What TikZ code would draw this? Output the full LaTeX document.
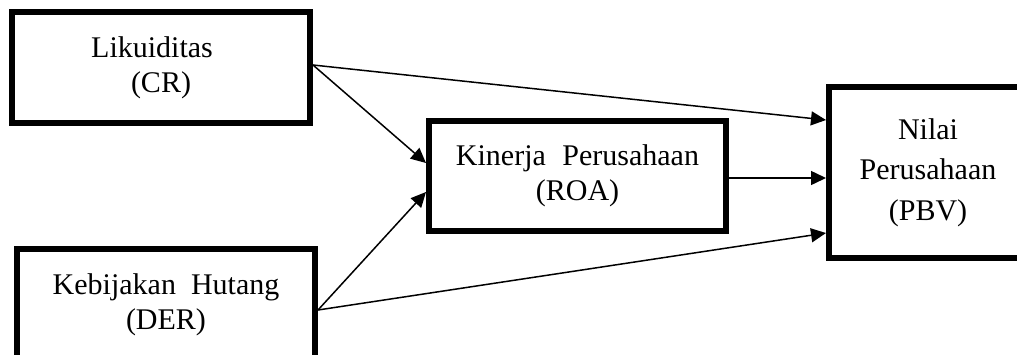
\documentclass[tikz,border=0pt]{standalone}
\usepackage{fontspec}
\setmainfont{Liberation Serif}
\usetikzlibrary{arrows.meta}
\begin{document}
\begin{tikzpicture}[x=1pt,y=-1pt,
  box/.style={draw, line width=6pt, inner sep=0pt, align=center, font=\fontsize{30}{35}\selectfont},
  arr/.style={line width=1.5pt, -{Triangle[length=15pt,width=14pt]}}]
\useasboundingbox (0,0) rectangle (1017,354);
\clip (0,0) rectangle (1017,354);
\node[box, minimum width=298pt, minimum height=111pt] (b1) at (161,67.5) {Likuiditas\hspace*{0.6em}\\(CR)};
\node[box, minimum width=298pt, minimum height=111pt] (b2) at (166,304.5) {Kebijakan\hspace{0.5em}Hutang\\(DER)};
\node[box, minimum width=297pt, minimum height=110pt] (b3) at (577.5,176) {Kinerja\hspace{0.55em}Perusahaan\\(ROA)};
\node[box, minimum width=198pt, minimum height=171pt, font=\fontsize{30}{40.5}\selectfont] (b4) at (928,172.5) {Nilai\\Perusahaan\\(PBV)};
\draw[arr] ([yshift=2.5pt]b1.east) -- ([yshift=52.5pt]b4.west);
\draw[arr] ([yshift=2.5pt]b1.east) -- ([yshift=13pt]b3.west);
\draw[arr] ([yshift=-5.5pt]b2.east) -- ([yshift=-16pt]b3.west);
\draw[arr] ([yshift=-5.5pt]b2.east) -- ([yshift=-60.5pt]b4.west);
\draw[arr] ([yshift=-2pt]b3.east) -- ([yshift=-5.5pt]b4.west);
\end{tikzpicture}
\end{document}
